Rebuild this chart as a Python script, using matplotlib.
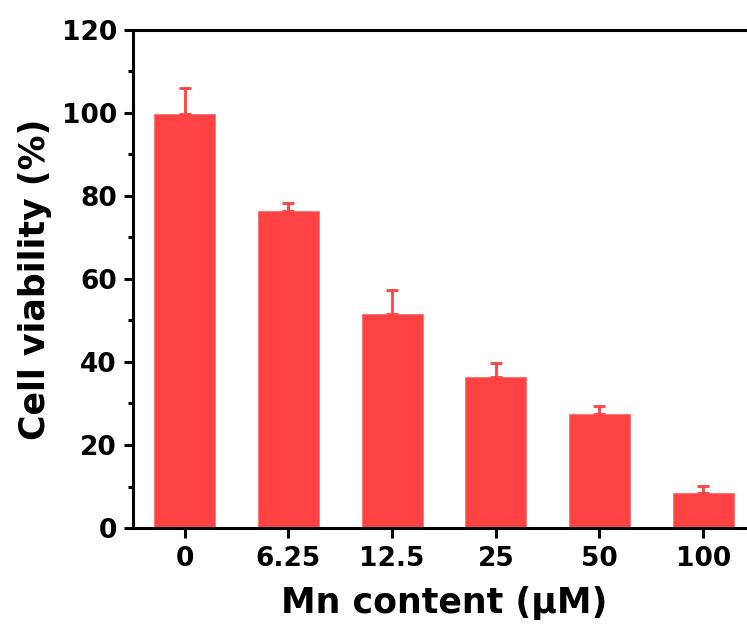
import matplotlib
matplotlib.use("Agg")
import matplotlib.pyplot as plt
from matplotlib.ticker import MultipleLocator

# Cell viability versus Mn concentration
concentrations = ["0", "6.25", "12.5", "25", "50", "100"]
viability = [99.8, 76.5, 51.6, 36.5, 27.5, 8.4]
viability_err = [6.3, 1.7, 5.7, 3.2, 1.8, 1.8]

plt.rcParams["font.family"] = ["DejaVu Sans"]
plt.rcParams["font.weight"] = "bold"

bar_color = "#FF4343"
lw = 2.2

fig = plt.figure(figsize=(7.47, 6.30), dpi=100)
ax = fig.add_axes([0.178, 0.1619, 0.8327, 0.7905])

x = list(range(len(concentrations)))
ax.bar(x, viability, width=0.59, color=bar_color, edgecolor="#FF7070",
       linewidth=0.6, zorder=2)
ax.errorbar(x, viability, yerr=[[0] * len(x), viability_err], fmt="none",
            ecolor=bar_color, elinewidth=2.0, capsize=4.3, capthick=2.0,
            zorder=3)

ax.set_xlim(-0.5, 5.5)
ax.set_ylim(0, 120)
ax.set_xticks(x)
ax.set_xticklabels(concentrations)
ax.yaxis.set_major_locator(MultipleLocator(20))
ax.yaxis.set_minor_locator(MultipleLocator(10))

for side in ["left", "top", "bottom", "right"]:
    ax.spines[side].set_linewidth(lw)

ax.tick_params(axis="both", which="major", direction="out", width=lw,
               labelsize=19)
ax.tick_params(axis="y", which="major", length=6.5, pad=5)
ax.tick_params(axis="y", which="minor", direction="out", length=3.6, width=lw)
ax.tick_params(axis="x", which="major", length=7, pad=6)
ax.tick_params(top=False, right=False, which="both")

for lab in ax.get_xticklabels() + ax.get_yticklabels():
    lab.set_fontweight("bold")

ax.set_ylabel("Cell viability (%)", fontsize=25, fontweight="bold", labelpad=7)
ax.set_xlabel("Mn content (\u03bcM)", fontsize=25, fontweight="bold", labelpad=10)

fig.savefig("out.png", dpi=100)
